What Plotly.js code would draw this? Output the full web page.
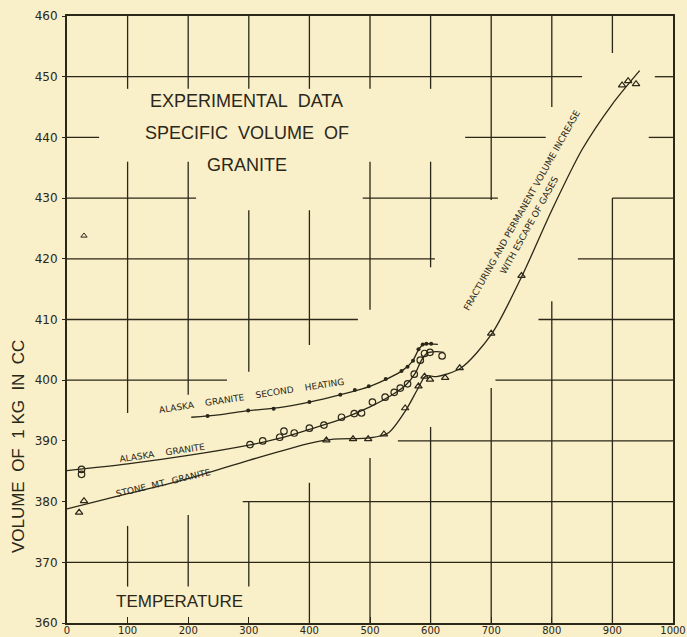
<!DOCTYPE html>
<html><head><meta charset="utf-8">
<script src="https://cdn.plot.ly/plotly-3.0.1.min.js"></script>
<style>html,body{margin:0;padding:0;background:#f9efc8;}</style>
</head><body>
<div id="chart" style="width:687px;height:637px;"></div>
<script>
// ---- data ----
// Stone Mt. granite (triangles)
const stoneT = [20, 28, 428, 472, 497, 523, 558, 580, 590, 599, 624, 648, 700, 750, 916, 926, 939];
const stoneV = [378.2, 380.1, 390.1, 390.3, 390.3, 391.1, 395.4, 399.0, 400.6, 400.1, 400.4, 402.0, 407.7, 417.2, 448.6, 449.3, 448.8];
// outlier triangle
const outlierT = [28];
const outlierV = [423.8];
// Alaska granite (circles)
const alaskaT = [24, 24, 302, 323, 351, 358, 375, 400, 424, 453, 474, 486, 504, 525, 540, 550, 562, 573, 583, 590, 599, 619];
const alaskaV = [385.3, 384.5, 389.4, 390.0, 390.6, 391.6, 391.3, 392.1, 392.6, 393.9, 394.5, 394.6, 396.4, 397.2, 398.0, 398.7, 399.4, 401.0, 403.3, 404.4, 404.6, 404.0];
// Alaska granite second heating (dots)
const secondT = [232, 299, 341, 400, 451, 475, 498, 526, 552, 562, 571, 580, 587, 593, 601];
const secondV = [394.1, 395.0, 395.3, 396.4, 397.6, 398.4, 399.0, 400.2, 401.5, 402.2, 403.2, 405.1, 405.9, 406.0, 406.0];
// fitted curves
const stoneCurveT = [0, 100, 200, 300, 400, 440, 500, 530, 560, 580, 592, 610, 650, 700, 750, 800, 850, 900, 945];
const stoneCurveV = [378.8, 381.3, 383.8, 386.8, 389.6, 390.3, 390.5, 391.3, 395.2, 398.8, 400.7, 400.6, 402.0, 407.5, 417.0, 428.0, 438.0, 445.5, 451.0];
const alaskaCurveT = [0, 100, 200, 300, 350, 400, 450, 500, 540, 560, 575, 585, 595, 610, 622];
const alaskaCurveV = [385.1, 386.2, 387.6, 389.3, 390.4, 391.9, 393.5, 395.6, 397.8, 399.3, 401.2, 403.3, 404.5, 404.7, 404.6];
const secondCurveT = [205, 250, 300, 350, 400, 450, 500, 530, 555, 570, 580, 588, 600, 612];
const secondCurveV = [393.9, 394.3, 395.0, 395.5, 396.4, 397.6, 399.0, 400.3, 401.7, 403.1, 405.0, 405.9, 406.0, 405.9];
const xTicks = [0, 100, 200, 300, 400, 500, 600, 700, 800, 900, 1000];
const yTicks = [360, 370, 380, 390, 400, 410, 420, 430, 440, 450, 460];

// ---- broken drafting grid (segments in axis units) ----
const vSegs = [
  [100, 460, 448], [100, 436, 394.6], [100, 376, 366],
  [200, 460, 448], [200, 436, 397.6], [200, 377.8, 366],
  [300, 460, 448], [300, 428, 401.4], [300, 380, 366],
  [400, 460, 448], [400, 428, 405.8], [400, 383.1, 360],
  [500, 460, 448], [500, 436, 411.6], [500, 387.2, 360],
  [600, 460, 448], [600, 436, 418.6], [600, 392.3, 360],
  [700, 460, 429.7], [700, 398.7, 360],
  [800, 460, 445], [800, 413, 360],
  [900, 460, 453.9], [900, 430, 360]
];
const hSegs = [
  [450, 0, 850], [450, 970, 1000],
  [440, 0, 53], [440, 657, 790], [440, 960, 1000],
  [430, 0, 213], [430, 488, 711], [430, 900, 1000],
  [420, 0, 607], [420, 843, 1000],
  [410, 0, 480], [410, 778, 1000],
  [400, 0, 264], [400, 707, 1000],
  [390, 546, 1000],
  [380, 290, 1000],
  [370, 0, 1000]
];
const ink = '#2b2719';
const shapes = [];
vSegs.forEach(s => shapes.push({type:'line', xref:'x', yref:'y', x0:s[0], x1:s[0], y0:s[1], y1:s[2], line:{color:ink, width:1.3}, layer:'below'}));
hSegs.forEach(s => shapes.push({type:'line', xref:'x', yref:'y', x0:s[1], x1:s[2], y0:s[0], y1:s[0], line:{color:ink, width:1.3}, layer:'below'}));

const lineStyle = {color: ink, width: 1.3, shape: 'spline', smoothing: 0.8};
const traces = [
  {x: stoneCurveT, y: stoneCurveV, mode: 'lines', line: lineStyle, hoverinfo: 'skip'},
  {x: alaskaCurveT, y: alaskaCurveV, mode: 'lines', line: lineStyle, hoverinfo: 'skip'},
  {x: secondCurveT, y: secondCurveV, mode: 'lines', line: lineStyle, hoverinfo: 'skip'},
  {x: stoneT, y: stoneV, mode: 'markers', marker: {symbol: 'triangle-up-open', size: 6.5, color: ink, line: {width: 1.2, color: ink}}},
  {x: outlierT, y: outlierV, mode: 'markers', marker: {symbol: 'triangle-up-open', size: 5.5, color: ink, line: {width: 1, color: ink}}},
  {x: alaskaT, y: alaskaV, mode: 'markers', marker: {symbol: 'circle-open', size: 6.5, color: ink, line: {width: 1.2, color: ink}}},
  {x: secondT, y: secondV, mode: 'markers', marker: {symbol: 'circle', size: 4, color: ink}}
];

const lblFont = {family: 'DejaVu Sans, sans-serif', size: 9, color: ink};
const fracFont = {family: 'DejaVu Sans, sans-serif', size: 9, color: ink};
const bigFont = {family: 'Liberation Sans, Arial, sans-serif', size: 18, color: ink};
const nb = '&nbsp;';
const annotations = [
  {x: 0.297, y: 0.860, xref: 'paper', yref: 'paper', xanchor: 'center', yanchor: 'middle', text: 'EXPERIMENTAL' + nb + nb + 'DATA', showarrow: false, font: bigFont},
  {x: 0.297, y: 0.807, xref: 'paper', yref: 'paper', xanchor: 'center', yanchor: 'middle', text: 'SPECIFIC' + nb + nb + 'VOLUME' + nb + nb + 'OF', showarrow: false, font: bigFont},
  {x: 0.297, y: 0.755, xref: 'paper', yref: 'paper', xanchor: 'center', yanchor: 'middle', text: 'GRANITE', showarrow: false, font: bigFont},
  {x: 0.186, y: 0.0346, xref: 'paper', yref: 'paper', xanchor: 'center', yanchor: 'middle', text: 'TEMPERATURE', showarrow: false, font: {family: 'Liberation Sans, Arial, sans-serif', size: 17, color: ink}},
  {x: -0.079, y: 0.29, xref: 'paper', yref: 'paper', xanchor: 'center', yanchor: 'middle', textangle: -90, text: 'VOLUME' + nb + nb + 'OF' + nb + nb + '1' + nb + 'KG' + nb + nb + 'IN' + nb + nb + 'CC', showarrow: false, font: {family: 'Liberation Sans, Arial, sans-serif', size: 17, color: ink}},
  {x: 304, y: 397.4, xanchor: 'center', yanchor: 'middle', text: 'ALASKA' + nb.repeat(4) + 'GRANITE' + nb.repeat(4) + 'SECOND' + nb.repeat(4) + 'HEATING', showarrow: false, textangle: -8.8, font: lblFont},
  {x: 157, y: 388.0, xanchor: 'center', yanchor: 'middle', text: 'ALASKA' + nb.repeat(4) + 'GRANITE', showarrow: false, textangle: -8.5, font: lblFont},
  {x: 159, y: 383.0, xanchor: 'center', yanchor: 'middle', text: 'STONE' + nb + nb + 'MT.' + nb + nb + 'GRANITE', showarrow: false, textangle: -13.2, font: lblFont},
  {x: 750, y: 427.9, xanchor: 'center', yanchor: 'middle', text: 'FRACTURING AND PERMANENT VOLUME INCREASE', showarrow: false, textangle: -60.7, font: fracFont},
  {x: 763, y: 425.6, xanchor: 'center', yanchor: 'middle', text: 'WITH ESCAPE OF GASES', showarrow: false, textangle: -61, font: fracFont}
];

const layout = {
  width: 687, height: 637,
  margin: {l: 67, r: 14, t: 16, b: 14},
  paper_bgcolor: '#f9efc8', plot_bgcolor: '#f9efc8',
  showlegend: false,
  font: {family: 'DejaVu Sans, sans-serif', color: ink},
  xaxis: {range: [0, 1000], tickvals: xTicks, ticktext: xTicks.map(String), showgrid: false, zeroline: false,
          showline: true, mirror: true, linecolor: ink, linewidth: 2, ticks: 'inside', ticklen: 6, tickcolor: ink,
          tickfont: {size: 10, color: ink, family: 'DejaVu Sans, sans-serif'}, ticklabelstandoff: -3, fixedrange: true},
  yaxis: {range: [360, 460], tickvals: yTicks, ticktext: yTicks.map(String), showgrid: false, zeroline: false,
          showline: true, mirror: true, linecolor: ink, linewidth: 2, ticks: 'outside', ticklen: 3, tickcolor: ink,
          tickfont: {size: 12, color: ink, family: 'DejaVu Sans, sans-serif'}, ticklabelstandoff: 2,
          fixedrange: true},
  shapes: shapes,
  annotations: annotations
};
Plotly.newPlot('chart', traces, layout, {displayModeBar: false, staticPlot: true});
</script>
</body></html>
